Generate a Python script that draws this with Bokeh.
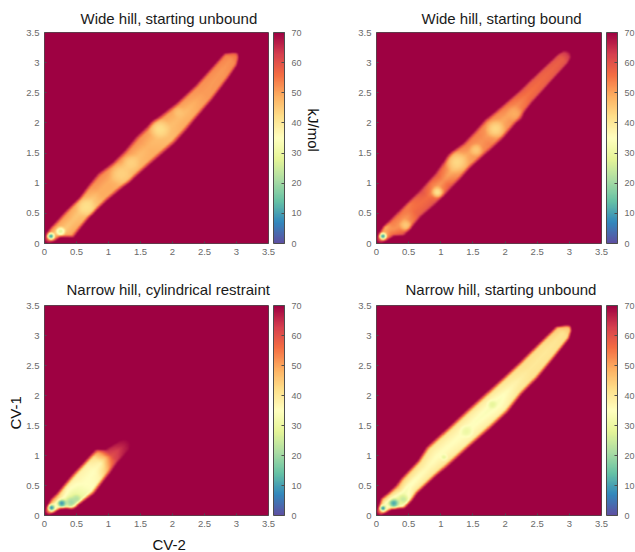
import numpy as np
from bokeh.embed import file_html
from bokeh.resources import INLINE
from bokeh.layouts import column, row
from bokeh.models import (ColorBar, FixedTicker, LinearColorMapper, NumeralTickFormatter, Range1d, Title)
from bokeh.palettes import Spectral11
from bokeh.plotting import figure

# Ticks and labels
axis_ticks = [0, 0.5, 1, 1.5, 2, 2.5, 3, 3.5]
bar_ticks = [0, 10, 20, 30, 40, 50, 60, 70]
titles = ["Wide hill, starting unbound", "Wide hill, starting bound",
          "Narrow hill, cylindrical restraint", "Narrow hill, starting unbound"]

# Free-energy ridge.
# Columns: distance along the diagonal, lower edge, upper edge (CV-1 minus CV-2),
# then kJ/mol on the lower flank, the centre and the upper flank.
wide_unbound = [
    [.03, -.05, .05, 68, 68, 68], [.10, -.11, .13, 55, 45, 55], [.18, -.13, .16, 50, 46, 52],
    [.28, -.34, .17, 50, 45, 50], [.40, -.30, .19, 49, 46, 51], [.55, -.26, .20, 47, 45, 49],
    [.65, -.25, .20, 45, 42, 48], [.85, -.25, .27, 49, 49, 52], [1.0, -.27, .31, 49, 49, 53],
    [1.2, -.30, .26, 47, 46, 51], [1.4, -.31, .27, 48, 46, 52], [1.6, -.33, .32, 49, 48, 52],
    [1.85, -.35, .32, 47, 46, 50], [2.05, -.32, .28, 49, 47, 50], [2.2, -.28, .25, 49, 47, 51],
    [2.5, -.22, .25, 51, 51, 52], [2.8, -.12, .30, 52, 51, 53], [2.98, -.04, .33, 53, 52, 54],
    [3.05, .05, .22, 56, 55, 58], [3.08, .12, .16, 62, 62, 64]]
wide_bound = [
    [.03, -.05, .05, 68, 68, 68], [.10, -.10, .12, 56, 45, 56], [.20, -.14, .17, 56, 52, 48],
    [.28, -.29, .17, 58, 52, 54], [.41, -.27, .18, 52, 50, 56], [.56, -.24, .19, 58, 56, 54],
    [.78, -.26, .20, 59, 56, 60], [.92, -.25, .22, 54, 50, 56], [1.04, -.24, .24, 58, 52, 58],
    [1.20, -.22, .30, 52, 48, 54], [1.35, -.19, .34, 50, 48, 52], [1.51, -.20, .30, 52, 50, 54],
    [1.7, -.21, .32, 54, 52, 54], [1.87, -.21, .35, 50, 48, 52], [2.1, -.16, .32, 53, 50, 54],
    [2.39, -.07, .30, 57, 55, 58], [2.7, -.02, .31, 58, 57, 58], [2.98, .02, .31, 60, 58, 60],
    [3.05, .06, .28, 64, 63, 64], [3.09, .14, .20, 70, 70, 70]]
narrow_cylinder = [
    [.04, -.05, .05, 66, 66, 66], [.10, -.09, .10, 42, 34, 46], [.19, -.13, .165, 38, 34, 52],
    [.28, -.31, .16, 30, 30, 44], [.40, -.35, .19, 28, 30, 38], [.57, -.39, .23, 34, 35, 38],
    [.75, -.33, .25, 38, 35, 38], [.87, -.30, .27, 48, 37, 42], [.95, -.27, .28, 56, 46, 52],
    [1.02, -.25, .14, 62, 60, 64], [1.12, -.24, .10, 66, 63, 66], [1.21, -.22, .06, 68, 67, 68],
    [1.28, -.12, .00, 70, 70, 70]]
narrow_unbound = [
    [.03, -.05, .05, 68, 68, 68], [.10, -.09, .11, 42, 34, 46], [.18, -.13, .20, 38, 32, 46],
    [.28, -.30, .18, 32, 28, 42], [.40, -.29, .18, 36, 32, 46], [.50, -.25, .22, 40, 34, 44],
    [.78, -.25, .25, 40, 36, 41], [.96, -.27, .34, 40, 35, 40], [1.29, -.28, .33, 38, 35, 40],
    [1.57, -.30, .33, 39, 34, 40], [1.88, -.30, .32, 38, 33, 40], [2.14, -.22, .31, 40, 37, 41],
    [2.39, -.20, .31, 41, 40, 42], [2.7, -.12, .33, 41, 40, 42], [2.97, -.04, .34, 42, 41, 45],
    [3.05, .05, .22, 46, 45, 50], [3.08, .12, .16, 58, 56, 60]]

# Basins: CV-2, CV-1, kJ/mol, radius
wide_unbound_basins = [[.10, .12, 7, .07], [.25, .20, 27, .09], [.65, .60, 42, .17], [1.20, 1.15, 44, .20],
                       [1.35, 1.33, 44, .16], [1.80, 1.90, 42, .19], [2.10, 2.17, 46, .11]]
wide_bound_basins = [[.10, .12, 7, .07], [.45, .30, 45, .11], [.95, .85, 41, .11], [1.25, 1.35, 43, .20],
                     [1.55, 1.55, 45, .12], [1.85, 1.90, 43, .17], [2.15, 2.15, 49, .15]]
narrow_cylinder_basins = [[.11, .13, 6, .07], [.27, .20, 8, .09], [.42, .22, 20, .12], [.50, .28, 22, .09]]
narrow_unbound_basins = [[.10, .12, 5, .06], [.27, .20, 10, .10], [.42, .27, 24, .10], [1.05, .97, 28, .06],
                          [1.40, 1.40, 30, .12], [1.80, 1.85, 28, .09]]

panels = [(wide_unbound, wide_unbound_basins), (wide_bound, wide_bound_basins),
          (narrow_cylinder, narrow_cylinder_basins), (narrow_unbound, narrow_unbound_basins)]

# Grid built from the tables above
n = 560
cx = (np.arange(n) + .5) / n * 3.5
X, Y = np.meshgrid(cx, cx)


def soften(E, k=7):
    kernel = np.ones(k) / k
    for axis in (0, 1):
        E = np.apply_along_axis(lambda v: np.convolve(np.pad(v, k, mode="edge"), kernel, mode="same")[k:-k], axis, E)
    return E


def field(stations, basins):
    st = np.array(stations, dtype=float)
    S = (X + Y) / 2
    T = Y - X
    lo = np.interp(S, st[:, 0], st[:, 1])
    hi = np.interp(S, st[:, 0], st[:, 2])
    a = np.interp(S, st[:, 0], st[:, 3])
    b = np.interp(S, st[:, 0], st[:, 4])
    c = np.interp(S, st[:, 0], st[:, 5])
    U = (T - (lo + hi) / 2) / np.maximum((hi - lo) / 2 * 1.08, 1e-3)
    E = np.full(U.shape, 70.0)
    k = .72
    m = U < 0
    E[m] = np.where(U[m] < -k, a[m] + (70 - a[m]) * (-U[m] - k) / (1 - k), b[m] + (a[m] - b[m]) * (-U[m]) / k)
    m = ~m
    E[m] = np.where(U[m] > k, c[m] + (70 - c[m]) * (U[m] - k) / (1 - k), b[m] + (c[m] - b[m]) * U[m] / k)
    E = np.clip(E, 0, 70)
    E[(S < st[0, 0]) | (S > st[-1, 0])] = 70
    for bx, by, bv, br in basins:
        d = np.hypot(X - bx, Y - by) / br
        E = np.where(d < 1, E + (bv - E) * (1 - d ** 2) ** 1.5, E)
    return soften(E)


anchors = (np.array([int(h[1:3], 16) for h in Spectral11]), np.array([int(h[3:5], 16) for h in Spectral11]),
           np.array([int(h[5:7], 16) for h in Spectral11]))
pos = np.linspace(0, 1, 11)
palette = ["#%02x%02x%02x" % tuple(int(round(np.interp(v, pos, ch))) for ch in anchors) for v in np.linspace(0, 1, 256)]
mapper = LinearColorMapper(palette=palette, low=0, high=70)

TXT = "#6a6a6a"
LINE = "#4d4d4d"
FONT = "Liberation Sans"
HEAD = "Liberation Sans"


def side_title(text, align, offset, standoff):
    return Title(text=text, text_font=HEAD, text_font_size="15px", text_font_style="normal", text_color="#111111",
                 align=align, offset=offset, standoff=standoff)


def panel(i, w, h, fw, fh, left, top, right, bottom, title_x, standoff):
    p = figure(width=w, height=h, frame_width=fw, frame_height=fh, x_range=Range1d(0, 3.5), y_range=Range1d(0, 3.5),
               output_backend="svg", toolbar_location=None, min_border_left=left, min_border_top=top,
               min_border_right=right, min_border_bottom=bottom, border_fill_color=None)
    stations, basins = panels[i]
    p.image(image=[field(stations, basins)], x=0, y=0, dw=3.5, dh=3.5, color_mapper=mapper)
    p.grid.visible = False
    p.outline_line_color = LINE
    for ax in (p.xaxis[0], p.yaxis[0]):
        ax.ticker = FixedTicker(ticks=axis_ticks)
        ax.formatter = NumeralTickFormatter(format="0.[0]")
        ax.axis_line_color = None
        ax.major_tick_line_color = LINE
        ax.major_tick_in = 2
        ax.major_tick_out = 0
        ax.minor_tick_line_color = None
        ax.major_label_text_color = TXT
        ax.major_label_text_font = FONT
        ax.major_label_text_font_size = "9.5px"
        ax.major_label_standoff = 5
    p.add_layout(Title(text=titles[i], text_font=HEAD, text_font_size="15px", text_font_style="normal",
                       text_color="#1a1a1a", align="left", offset=title_x, standoff=standoff), "above")
    cb = ColorBar(color_mapper=mapper, ticker=FixedTicker(ticks=bar_ticks), width=11, height=fh, margin=0, padding=0,
                  location=(5, 0), bar_line_color=LINE, major_tick_line_color=LINE, major_tick_in=3, major_tick_out=0,
                  minor_tick_line_color=None, major_label_text_color=TXT, major_label_text_font=FONT,
                  major_label_text_font_size="9px", label_standoff=7, border_line_color=None,
                  background_fill_color=None)
    p.add_layout(cb, "right")
    return p


p1 = panel(0, 320, 270, 224, 211, 44, 32, 52, 27, 36, 12)
p2 = panel(1, 315, 270, 225, 211, 53, 32, 34, 27, 45, 12)
p3 = panel(2, 320, 282, 224, 210, 44, 35, 52, 37, 22, 15)
p4 = panel(3, 315, 282, 225, 210, 56, 35, 34, 37, 29, 15)

p1.add_layout(side_title("kJ/mol", "left", 76, 0), "right")
p3.add_layout(side_title("CV-1", "left", 86, 0), "left")
p3.add_layout(side_title("CV-2", "left", 108, 9), "below")

layout = column(row(p1, p2, spacing=0), row(p3, p4, spacing=0), spacing=0)
open("out.html", "w").write(file_html(layout, INLINE))
